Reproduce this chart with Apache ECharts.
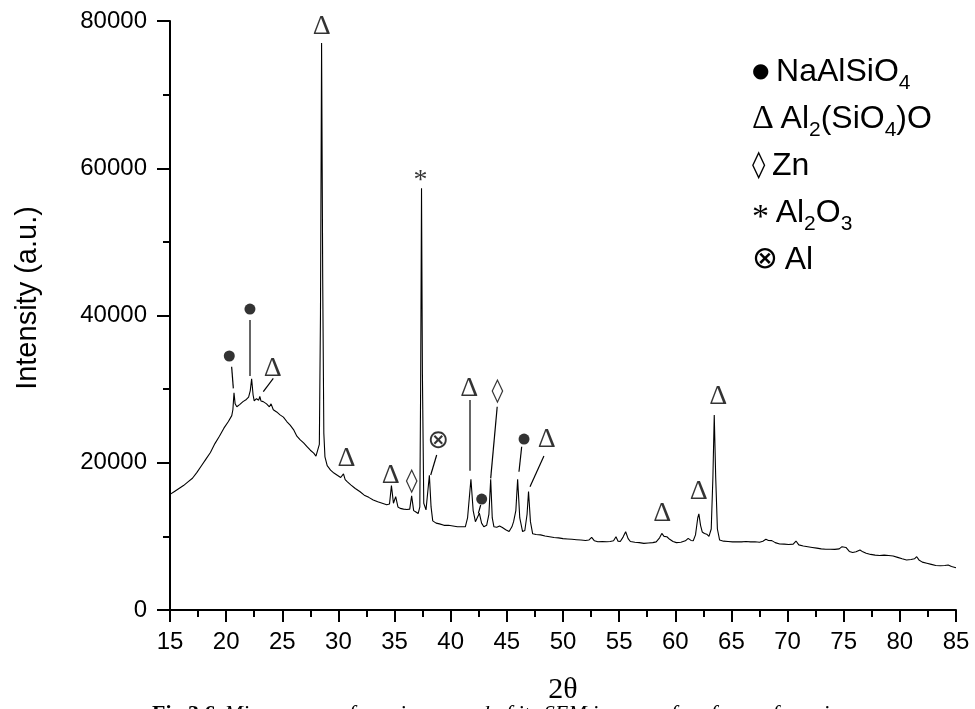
<!DOCTYPE html>
<html>
<head>
<meta charset="utf-8">
<script src="https://cdn.jsdelivr.net/npm/echarts@6/dist/echarts.min.js"></script>
<style>
    html, body { margin: 0; padding: 0; background: #fff; }
    #xrdChart { width: 975px; height: 709px; }
</style>
</head>
<body>
<div id="xrdChart"></div>
<script>
// XRD pattern
var twoTheta = [
    15.0, 15.4, 15.8, 16.2, 16.6, 17.0, 17.4, 17.8, 18.2, 18.6, 19.0, 19.4, 19.8, 20.2, 20.5, 20.6, 20.7, 20.8, 20.95,
    21.2, 21.5, 21.8, 22.0, 22.15, 22.27, 22.4, 22.5, 22.7, 22.9, 23.0, 23.1, 23.3, 23.6, 23.85, 24.0, 24.2, 24.5, 24.8,
    25.1, 25.4, 25.7, 26.0, 26.3, 26.6, 26.9, 27.2, 27.5, 27.8, 28.0, 28.15, 28.3, 28.4, 28.5, 28.6, 28.7, 28.8,
    29.0, 29.3, 29.6, 29.9, 30.2, 30.45, 30.6, 30.8, 31.1, 31.5, 31.9, 32.3, 32.7, 33.1, 33.5, 33.9, 34.3, 34.55, 34.72,
    34.9, 35.1, 35.3, 35.5, 35.8, 36.1, 36.35, 36.52, 36.7, 36.9, 37.1, 37.25, 37.32, 37.4, 37.48, 37.6, 37.8, 37.95,
    38.1, 38.25, 38.4, 38.7, 39.0, 39.4, 39.8, 40.2, 40.6, 41.0, 41.3, 41.5, 41.8, 42.0, 42.2, 42.35, 42.55, 42.75,
    42.95, 43.2, 43.4, 43.56, 43.7, 43.85, 44.1, 44.35, 44.6, 44.9, 45.2, 45.45, 45.6, 45.8, 45.96, 46.15, 46.4, 46.6,
    46.8, 46.93, 47.1, 47.3, 47.6, 48.0, 48.4, 48.8, 49.2, 49.6, 50.0, 50.4, 50.8, 51.2, 51.6, 52.0, 52.3, 52.55, 52.8,
    53.1, 53.5, 53.9, 54.2, 54.5, 54.72, 54.9, 55.1, 55.35, 55.58, 55.8, 56.0, 56.4, 56.8, 57.2, 57.6, 58.0, 58.3, 58.6,
    58.8, 59.0, 59.25, 59.5, 59.8, 60.1, 60.5, 60.9, 61.15, 61.4, 61.6, 61.8, 62.0, 62.1, 62.25, 62.4, 62.6, 62.8, 63.0,
    63.2, 63.35, 63.47, 63.6, 63.75, 63.95, 64.3, 64.7, 65.1, 65.5, 65.9, 66.3, 66.7, 67.1, 67.5, 67.8, 68.07, 68.3,
    68.6, 68.9, 69.3, 69.7, 70.1, 70.5, 70.75, 71.0, 71.4, 71.8, 72.2, 72.6, 73.0, 73.4, 73.8, 74.2, 74.6, 74.85, 75.0,
    75.2, 75.5, 75.8, 76.1, 76.45, 76.7, 77.0, 77.4, 77.8, 78.2, 78.6, 79.0, 79.4, 79.8, 80.2, 80.6, 81.0, 81.3, 81.5,
    81.7, 82.0, 82.4, 82.8, 83.2, 83.6, 84.0, 84.3, 84.6, 85.0
];
var intensity = [
    15700, 16100, 16500, 16900, 17400, 17900, 18700, 19600, 20500, 21400, 22600, 23600, 24700, 25600, 26400, 27200, 29500, 28000, 27600,
    27900, 28300, 28600, 28900, 29800, 31400, 29200, 28400, 28700, 28500, 29000, 28400, 28300, 28000, 27600, 28000, 27200, 26900, 26500,
    26200, 25600, 25100, 24500, 23600, 23100, 22700, 22200, 21700, 21300, 20900, 20700, 22500, 40000, 77000, 45000, 24000, 20800,
    19600, 19000, 18600, 18300, 18000, 18500, 17700, 17400, 17000, 16500, 16100, 15600, 15300, 14950, 14700, 14500, 14300, 14400, 16900,
    14500, 15400, 14000, 13800, 13700, 13650, 13700, 15500, 13500, 13300, 13100, 14000, 30000, 57300, 32000, 14500, 13600, 13800,
    18300, 14000, 12100, 11800, 11700, 11500, 11500, 11400, 11300, 11300, 11300, 12500, 17750, 13500, 12000, 12200, 13150, 11800,
    11300, 11500, 13000, 17750, 12500, 11300, 11250, 11400, 11200, 10900, 10650, 11300, 12000, 13500, 17750, 12500, 10650, 10800,
    13000, 16100, 12000, 10350, 10250, 10200, 10050, 9950, 9850, 9800, 9700, 9650, 9600, 9550, 9500, 9450, 9500, 9870, 9400,
    9280, 9300, 9270, 9300, 9400, 9950, 9350, 9300, 9900, 10630, 9700, 9300, 9200, 9150, 9050, 9100, 9150, 9250, 9800,
    10400, 10000, 9950, 9600, 9300, 9150, 9200, 9400, 9730, 9450, 9400, 10200, 12500, 13050, 11500, 10600, 10400, 10300, 10000,
    11000, 18000, 26500, 18000, 11000, 9500, 9350, 9300, 9250, 9280, 9250, 9300, 9250, 9270, 9200, 9350, 9600, 9450,
    9420, 9150, 8960, 8950, 8900, 8950, 9370, 8850, 8700, 8600, 8500, 8400, 8300, 8250, 8250, 8230, 8300, 8600, 8830,
    8500, 7950, 7800, 7900, 8150, 7900, 7700, 7550, 7450, 7400, 7450, 7400, 7330, 7150, 6950, 6800, 6850, 6950, 7240,
    6800, 6500, 6350, 6200, 6050, 6000, 6050, 6110, 5900, 5750
];

var xTicks = [15, 85, 5];          // min, max, step
var yTicks = [0, 80000, 20000];

// phase marks on the peaks
var markSymbols = ['Δ', 'Δ', 'Δ', 'Δ', '◊', '*', '⊗', 'Δ', '◊', 'Δ', 'Δ', 'Δ', 'Δ'];
var markX = [24.14, 28.51, 30.73, 34.65, 36.52, 37.3, 38.9, 41.66, 44.17, 48.55, 58.85, 62.1, 63.83];
var markY = [32820, 79200, 20500, 18200, 17400, 59400, 22950, 30100, 29650, 23180, 13130, 16070, 28970];

var dotX = [20.28, 22.12, 42.76, 46.53];
var dotY = [34500, 40880, 15070, 23220];

// leader lines from label to peak
var leaderFrom = [[20.49, 33040], [22.12, 39380], [24.2, 31460], [38.75, 21050], [41.72, 28520], [42.67, 14260], [44.14, 27610], [46.32, 22180], [48.3, 20910]];
var leaderTo = [[20.64, 30100], [22.12, 31780], [23.31, 29650], [38.22, 18330], [41.72, 18920], [42.46, 13130], [43.56, 17880], [46.08, 18780], [47.06, 16750]];
var leaderGrey = [false, true, false, false, true, false, false, false, false];

var legendRows = [
    '{c|●}{g| }{n|NaAlSiO}{s|4}',
    '{d|Δ}{g| }{n|Al}{s|2}{n|(SiO}{s|4}{n|)O}',
    '{z|◊}{g| }{n|Zn}',
    '{a|*}{g| }{n|Al}{s|2}{n|O}{s|3}',
    '{o|⊗}{g| }{n|Al}'
];

var chart = echarts.init(document.getElementById('xrdChart'));

var symStyle = { 'Δ': 'd', '◊': 'z', '*': 'a', '⊗': 'o' };
var symRich = {
    d: { fontFamily: 'Liberation Serif', fontSize: 28, color: '#000' },
    z: { fontFamily: 'DejaVu Sans', fontSize: 24, color: '#000' },
    a: { fontFamily: 'Liberation Serif', fontSize: 28, color: '#000' },
    o: { fontFamily: 'DejaVu Sans', fontSize: 26, color: '#000' }
};

var markData = markX.map(function (x, i) {
    var item = { value: [x, markY[i]], name: markSymbols[i] };
    if (markSymbols[i] === '*') {
        item.label = { offset: [0, 8] };
    }
    return item;
});

var leaderData = leaderFrom.map(function (p, i) {
    return [
        { coord: p, lineStyle: { color: leaderGrey[i] ? '#666' : '#000', width: leaderGrey[i] ? 2 : 1.2, type: 'solid' } },
        { coord: leaderTo[i] }
    ];
});

// legend drawn by hand because of the subscripts
var legendGraphics = legendRows.map(function (t, i) {
    return {
        type: 'text',
        x: 752,
        y: 72 + i * 47,
        style: {
            text: t,
            fill: '#000',
            verticalAlign: 'middle',
            rich: {
                c: { fontFamily: 'DejaVu Sans', fontSize: 20, fill: '#000' },
                d: { fontFamily: 'Liberation Serif', fontSize: 34, fill: '#000' },
                z: { fontFamily: 'DejaVu Sans', fontSize: 27, fill: '#000' },
                a: { fontFamily: 'Liberation Serif', fontSize: 34, lineHeight: 32, verticalAlign: 'bottom', fill: '#000' },
                o: { fontFamily: 'DejaVu Sans', fontSize: 31, fill: '#000' },
                g: { fontFamily: 'Liberation Sans', fontSize: 24, fill: '#000' },
                n: { fontFamily: 'Liberation Sans', fontSize: 32, lineHeight: 44, fill: '#000' },
                s: { fontFamily: 'Liberation Sans', fontSize: 21, lineHeight: 21, verticalAlign: 'bottom', fill: '#000' }
            }
        }
    };
});

var option = {
    backgroundColor: '#fff',
    animation: false,
    grid: {
        left: 170,
        right: 19,
        top: 21,
        bottom: 99,
        outerBoundsMode: 'none'
    },
    xAxis: {
        type: 'value',
        min: xTicks[0],
        max: xTicks[1],
        interval: xTicks[2],
        name: '2θ',
        nameLocation: 'middle',
        nameGap: 65,
        nameTextStyle: { fontFamily: 'Liberation Serif', fontSize: 30, color: '#000' },
        axisLine: { lineStyle: { color: '#000', width: 2 } },
        axisTick: { show: true, length: 12, lineStyle: { color: '#000', width: 2 } },
        minorTick: { show: true, splitNumber: 2, length: 7, lineStyle: { color: '#000', width: 2 } },
        axisLabel: { margin: 20, fontFamily: 'Liberation Sans', fontSize: 24, color: '#000' },
        splitLine: { show: false }
    },
    yAxis: {
        type: 'value',
        min: yTicks[0],
        max: yTicks[1],
        interval: yTicks[2],
        axisLine: { show: true, lineStyle: { color: '#000', width: 2 } },
        axisTick: { show: true, length: 13, lineStyle: { color: '#000', width: 2 } },
        minorTick: { show: true, splitNumber: 2, length: 7, lineStyle: { color: '#000', width: 2 } },
        axisLabel: {
            margin: 23,
            fontFamily: 'Liberation Sans',
            fontSize: 24,
            color: '#000',
            formatter: function (v) { return String(v); }
        },
        splitLine: { show: false }
    },
    series: [
        {
            name: 'XRD',
            type: 'line',
            data: twoTheta.map(function (x, i) { return [x, intensity[i]]; }),
            showSymbol: false,
            symbol: 'none',
            lineStyle: { color: '#000', width: 1.1 },
            z: 3,
            markLine: {
                silent: true,
                symbol: ['none', 'none'],
                label: { show: false },
                animation: false,
                data: leaderData
            }
        },
        {
            name: 'marks',
            type: 'scatter',
            data: markData,
            symbolSize: 1,
            itemStyle: { color: 'rgba(0,0,0,0)' },
            clip: false,
            silent: true,
            z: 5,
            label: {
                show: true,
                position: 'inside',
                color: '#000',
                formatter: function (p) {
                    return '{' + symStyle[p.name] + '|' + p.name + '}';
                },
                rich: symRich
            }
        },
        {
            name: 'dots',
            type: 'scatter',
            data: dotX.map(function (x, i) { return [x, dotY[i]]; }),
            symbol: 'circle',
            symbolSize: 11,
            itemStyle: { color: '#000' },
            clip: false,
            silent: true,
            z: 5
        }
    ],
    graphic: [
        {
            type: 'text',
            x: 28,
            y: 298,
            rotation: Math.PI / 2,
            style: {
                text: 'Intensity (a.u.)',
                fontFamily: 'Liberation Sans',
                fontSize: 29,
                fill: '#000',
                align: 'center',
                verticalAlign: 'middle'
            }
        },
        {
            type: 'text',
            x: 152,
            y: 703,
            style: {
                text: '{b|Fig 3.6.} {i|Micrograms of specimens and of its SEM images of surfaces of specimens}',
                fill: '#000',
                verticalAlign: 'top',
                rich: {
                    b: { fontFamily: 'Liberation Serif', fontSize: 22, fontWeight: 'bold', fill: '#000' },
                    i: { fontFamily: 'Liberation Serif', fontSize: 22, fontStyle: 'italic', fill: '#000' }
                }
            }
        }
    ].concat(legendGraphics)
};

chart.setOption(option);
</script>
</body>
</html>
